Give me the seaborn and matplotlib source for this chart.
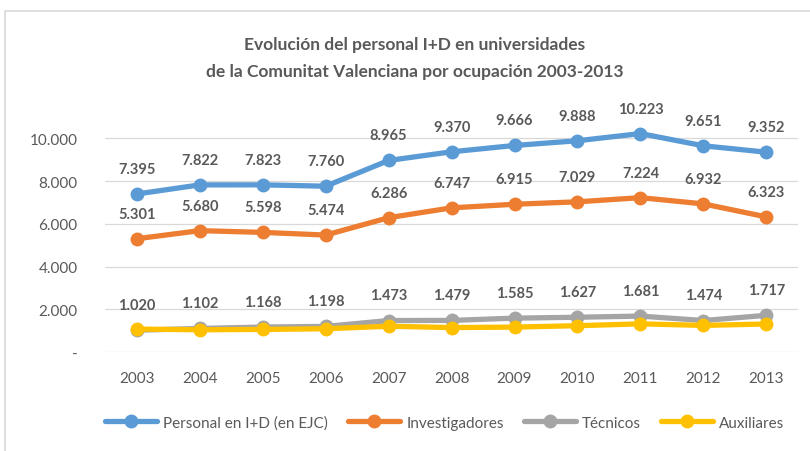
import pandas as pd
import seaborn as sns
from matplotlib import pyplot as plt
from matplotlib.patches import Rectangle

years = [2003, 2004, 2005, 2006, 2007, 2008, 2009, 2010, 2011, 2012, 2013]
personal = [7395, 7822, 7823, 7760, 8965, 9370, 9666, 9888, 10223, 9651, 9352]
investigadores = [5301, 5680, 5598, 5474, 6286, 6747, 6915, 7029, 7224, 6932, 6323]
tecnicos = [1020, 1102, 1168, 1198, 1473, 1479, 1585, 1627, 1681, 1474, 1717]
auxiliares = [1074, 1040, 1057, 1088, 1206, 1144, 1166, 1232, 1318, 1245, 1312]

series = ["Personal en I+D (en EJC)", "Investigadores", "Técnicos", "Auxiliares"]
colors = ["#5B9BD5", "#ED7D31", "#A5A5A5", "#FFC000"]
labelled = ["Personal en I+D (en EJC)", "Investigadores", "Técnicos"]

df = pd.DataFrame({
    "year": years * 4,
    "value": personal + investigadores + tecnicos + auxiliares,
    "serie": sum([[s] * len(years) for s in series], []),
})
df["x"] = df["year"].map({y: i for i, y in enumerate(years)})

sns.set_style("white")
plt.rcParams["font.family"] = ["Lato", "DejaVu Sans"]
txt = "#595959"

fig = plt.figure(figsize=(8.1, 4.52), dpi=100)
ax = fig.add_axes([0.13, 0.219, 0.855, 0.52])

sns.lineplot(data=df, x="x", y="value", hue="serie", hue_order=series,
             palette=colors, marker="o", markersize=10, markeredgewidth=0,
             linewidth=3.8, ax=ax, zorder=3)

# etiquetas de datos (Auxiliares no lleva)
for s, vals in zip(series, [personal, investigadores, tecnicos, auxiliares]):
    if s not in labelled:
        continue
    for i, v in enumerate(vals):
        lab = f"{v:,}".replace(",", ".")
        ax.annotate(lab, (i, v), xytext=(0, 13), textcoords="offset points",
                    ha="center", va="bottom", fontsize=10.5, fontweight="bold",
                    color=txt)

ax.set_xlim(-0.5, len(years) - 0.5)
ax.set_ylim(0, 11000)
ax.set_xticks(range(len(years)))
ax.set_xticklabels([str(y) for y in years])
ax.set_yticks([0, 2000, 4000, 6000, 8000, 10000])
ax.set_yticklabels(["-", "2.000", "4.000", "6.000", "8.000", "10.000"])
ax.tick_params(axis="both", length=0, labelsize=11, colors=txt, pad=14)
ax.tick_params(axis="y", pad=20)
ax.grid(axis="y", color="#D9D9D9", linewidth=0.9)
ax.set_axisbelow(True)
for sp in ax.spines.values():
    sp.set_visible(False)
ax.set_xlabel("")
ax.set_ylabel("")

handles, labels = ax.get_legend_handles_labels()
ax.legend(handles, labels, loc="center", bbox_to_anchor=(0.49, -0.3),
          ncol=4, frameon=False, fontsize=11, labelcolor=txt,
          handlelength=3.4, columnspacing=1.3, handletextpad=0.4)

fig.text(0.512, 0.9, "Evolución del personal I+D en universidades",
         ha="center", va="center", fontsize=12.5, fontweight="bold", color=txt)
fig.text(0.512, 0.84, "de la Comunitat Valenciana por ocupación 2003-2013",
         ha="center", va="center", fontsize=12.5, fontweight="bold", color=txt)

fig.patches.append(Rectangle((0.006, -0.05), 1.05, 1.023, transform=fig.transFigure,
                             fill=False, edgecolor="#D9D9D9", linewidth=1.2))

plt.savefig("out.png", dpi=100)
plt.close()
